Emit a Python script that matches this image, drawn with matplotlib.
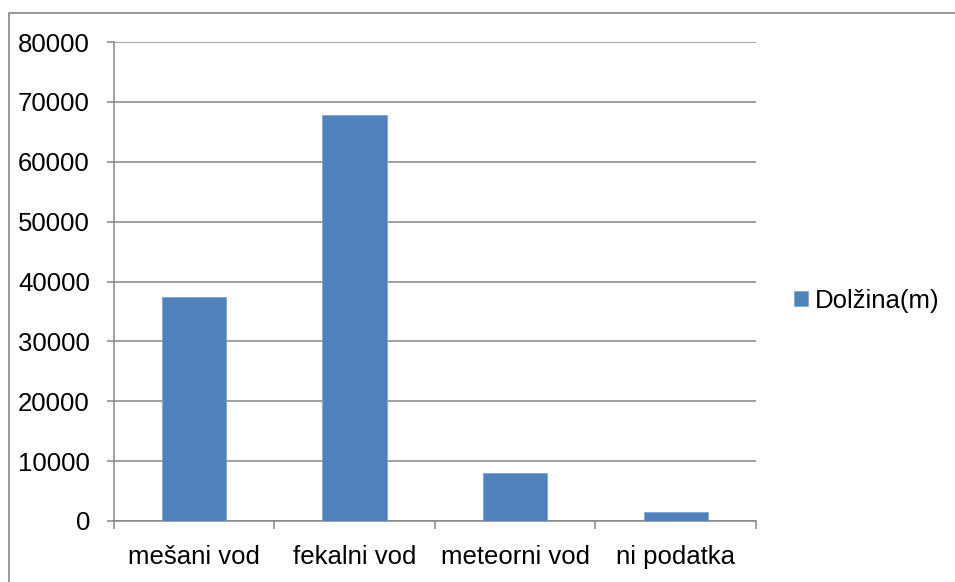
import matplotlib.pyplot as plt
from matplotlib.patches import Rectangle
import numpy as np

# podatki
kategorije = ['mešani vod', 'fekalni vod', 'meteorni vod', 'ni podatka']
dolzina = [37400, 67800, 8050, 1550]
y_ticks = [0, 10000, 20000, 30000, 40000, 50000, 60000, 70000, 80000]

plt.rcParams['font.family'] = ['Liberation Sans', 'DejaVu Sans']

W, H = 955, 582
fig = plt.figure(figsize=(W / 100, H / 100), dpi=100)

# okvir grafikona
fig.patches.append(Rectangle((9 / W, -0.1), 1.2, 1.1 - 13 / H, transform=fig.transFigure,
                             fill=False, edgecolor='#868686', linewidth=1.2))

ax = fig.add_axes([113.5 / W, (H - 521) / H, (756 - 113.5) / W, (521 - 42) / H])

x = np.arange(len(kategorije))
ax.bar(x, dolzina, width=0.4, color='#4F81BD', edgecolor='#7FA6D4', linewidth=0.6,
       label='Dolžina(m)', zorder=3)

ax.set_xlim(-0.5, len(kategorije) - 0.5)
ax.set_ylim(0, 80000)
ax.set_yticks(y_ticks)
ax.set_yticklabels([str(v) for v in y_ticks])
ax.set_xticks(x)
ax.set_xticklabels(kategorije)
ax.set_xticks(np.arange(-0.5, len(kategorije)), minor=True)

ax.grid(axis='y', color='#868686', linewidth=1.1, zorder=0)
for s in ['top', 'right']:
    ax.spines[s].set_visible(False)
for s in ['left', 'bottom']:
    ax.spines[s].set_color('#868686')
    ax.spines[s].set_linewidth(1.1)

ax.tick_params(axis='y', length=5, width=1.1, color='#868686', pad=12, labelsize=18.5)
ax.tick_params(axis='x', which='major', length=0, pad=17, labelsize=18.5)
ax.tick_params(axis='x', which='minor', length=6, width=1.1, color='#868686')

ax.legend(loc='center left', bbox_to_anchor=(1 + 38 / 642.5, 0.46), frameon=False,
          fontsize=18.5, handlelength=0.56, handleheight=0.56, handletextpad=0.25,
          borderpad=0, borderaxespad=0)

fig.savefig('out.png', dpi=100)
